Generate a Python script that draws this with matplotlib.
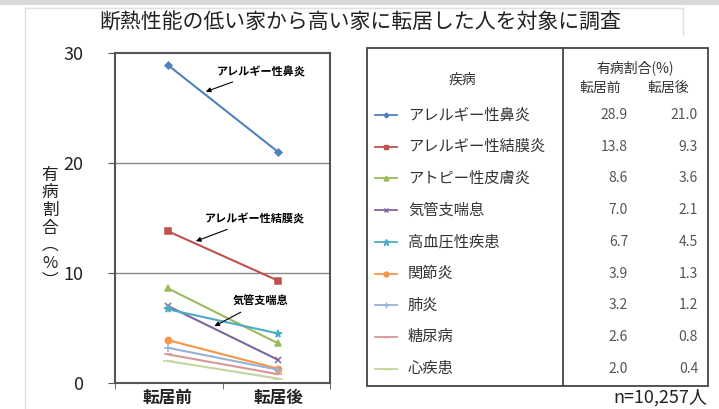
import numpy as np
import matplotlib
matplotlib.use('Agg')
import matplotlib.pyplot as plt
from matplotlib.patches import Rectangle

plt.rcParams['font.family'] = ['Noto Sans CJK JP', 'DejaVu Sans']

periods = ['転居前', '転居後']
diseases = ['アレルギー性鼻炎', 'アレルギー性結膜炎', 'アトピー性皮膚炎', '気管支喘息',
            '高血圧性疾患', '関節炎', '肺炎', '糖尿病', '心疾患']
before = [28.9, 13.8, 8.6, 7.0, 6.7, 3.9, 3.2, 2.6, 2.0]
after = [21.0, 9.3, 3.6, 2.1, 4.5, 1.3, 1.2, 0.8, 0.4]
y_ticks = [0, 10, 20, 30]

colors = ['#4F81BD', '#C0504D', '#9BBB59', '#8064A2', '#4BACC6', '#F79646',
          '#95B3D7', '#D99694', '#C3D69B']
markers = ['D', 's', '^', 'x', '*', 'o', '+', '_', '_']
msizes = [4, 5, 5, 5, 6, 5, 6, 6, 8]

fig = plt.figure(figsize=(7.19, 4.09), dpi=100)

# overlay in pixel coordinates for frame, title and table
bg = fig.add_axes([0, 0, 1, 1])
bg.set_xlim(0, 719)
bg.set_ylim(409, 0)
bg.axis('off')
bg.add_patch(Rectangle((0, 0), 719, 5, facecolor='#d9d9d9', edgecolor='none'))
bg.plot([25, 25], [8, 409], color='#e0e0e0', lw=1)
bg.plot([25, 683], [8, 8], color='#e0e0e0', lw=1)
bg.plot([683, 683], [8, 35], color='#e0e0e0', lw=1)

bg.text(360, 22, '断熱性能の低い家から高い家に転居した人を対象に調査',
        ha='center', va='center', fontsize=15, color='#222222')

# y label, stacked vertically
bg.text(50, 228, '\n'.join(['有', '病', '割', '合', '︵', '%', '︶']),
        ha='center', va='center', fontsize=12, linespacing=1.05, color='#222222')

# table
bg.add_patch(Rectangle((367, 48), 341, 338, facecolor='none', edgecolor='#444444', lw=1.3))
bg.plot([563, 563], [48, 386], color='#444444', lw=1.3)
bg.text(462, 80, '疾病', ha='center', va='center', fontsize=10, color='#333333')
bg.text(635, 68, '有病割合(%)', ha='center', va='center', fontsize=10, color='#333333')
bg.text(600, 88, periods[0], ha='center', va='center', fontsize=10, color='#333333')
bg.text(668, 88, periods[1], ha='center', va='center', fontsize=10, color='#333333')

row_y = 115
row_h = 31.7
for i, name in enumerate(diseases):
    yy = row_y + i * row_h
    bg.plot([375, 397], [yy, yy], color=colors[i], lw=1.3)
    bg.plot([386], [yy], color=colors[i], marker=markers[i],
            markersize=msizes[i] - 1.5, markeredgewidth=1)
    bg.text(408, yy, name, ha='left', va='center', fontsize=11, color='#333333')
    bg.text(628, yy, '%.1f' % before[i], ha='right', va='center', fontsize=10, color='#555555')
    bg.text(698, yy, '%.1f' % after[i], ha='right', va='center', fontsize=10, color='#555555')

bg.text(707, 398, 'n=10,257人', ha='right', va='center', fontsize=13, color='#222222')

# line chart
ax = fig.add_axes([115 / 719, 1 - 383 / 409, 215 / 719, 330 / 409])
x = np.arange(len(periods))
for i in range(len(diseases)):
    ax.plot(x, [before[i], after[i]], color=colors[i], lw=1.5,
            marker=markers[i], markersize=msizes[i] - 0.5, markeredgewidth=1.1)

ax.set_xlim(-0.48, 1.47)
ax.set_ylim(0, 30)
ax.set_yticks(y_ticks)
ax.set_yticklabels([str(v) for v in y_ticks], fontsize=13, color='#222222')
ax.set_xticks(x)
ax.set_xticklabels(periods, fontsize=12, fontweight='bold', color='#222222')
ax.tick_params(axis='x', length=0, pad=4)
ax.set_xticks([-0.48, 0.5, 1.47], minor=True)
ax.tick_params(axis='x', which='minor', length=4, color='#555555')
ax.tick_params(axis='y', length=5, color='#555555', pad=18)
for s in ax.spines.values():
    s.set_color('#555555')
    s.set_linewidth(1.5)
for v in y_ticks[1:-1]:
    ax.axhline(v, color='#888888', lw=1, zorder=0)

arrow = dict(arrowstyle='-|>', color='black', lw=0.8, mutation_scale=7)
ax.annotate('アレルギー性鼻炎', xy=(0.32, 26.4), xytext=(0.44, 28.3),
            fontsize=8, fontweight='bold', va='center', ha='left', arrowprops=arrow)
ax.annotate('アレルギー性結膜炎', xy=(0.23, 12.8), xytext=(0.33, 14.9),
            fontsize=8, fontweight='bold', va='center', ha='left', arrowprops=arrow)
ax.annotate('気管支喘息', xy=(0.40, 5.05), xytext=(0.59, 7.4),
            fontsize=8, fontweight='bold', va='center', ha='left', arrowprops=arrow)

fig.savefig('out.png', dpi=100)
